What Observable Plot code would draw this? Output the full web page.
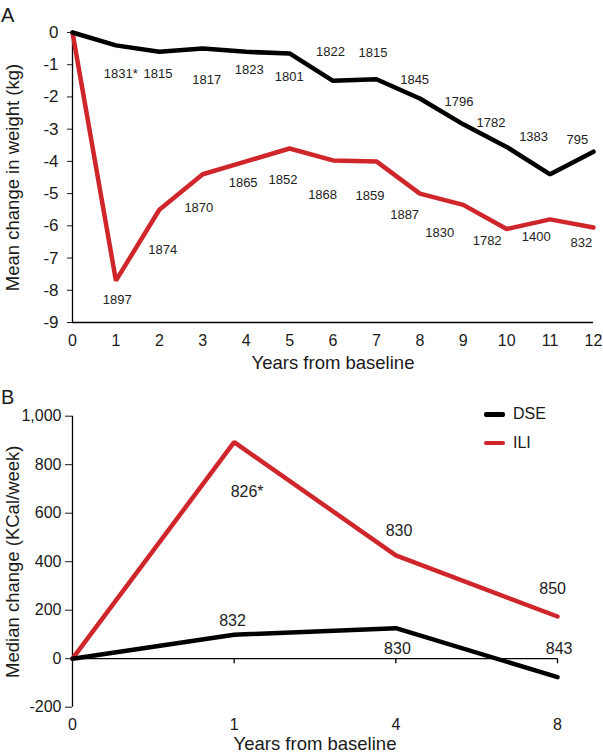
<!DOCTYPE html>
<html>
<head>
<meta charset="utf-8">
<script src="https://cdn.jsdelivr.net/npm/d3@7"></script>
<script src="https://cdn.jsdelivr.net/npm/@observablehq/plot@0.6"></script>
<style>
  body { margin: 0; background: #fff; font-family: "Liberation Sans", Arial, sans-serif; }
  #wrap { position: relative; width: 603px; height: 753px; overflow: hidden; }
  .panel { position: absolute; left: 0; }
  .letter { position: absolute; left: 1px; font-size: 20px; line-height: 1; color: #1a1a1a; }
  .legend { position: absolute; left: 484px; top: 400px; font-size: 16px; color: #1a1a1a; }
  .legend .row { display: flex; align-items: center; height: 28.7px; }
  .legend .sw { width: 21px; height: 4.5px; margin-right: 8px; border-radius: 2px; }
</style>
</head>
<body>
<div id="wrap">
  <div class="letter" style="top:5px">A</div>
  <div class="letter" style="top:387px">B</div>
  <div id="pa" class="panel" style="top:0"></div>
  <div id="pb" class="panel" style="top:375px"></div>
  <div class="legend">
    <div class="row"><div class="sw" style="background:#000"></div><span>DSE</span></div>
    <div class="row"><div class="sw" style="background:#cf262c"></div><span>ILI</span></div>
  </div>
</div>
<script>
// ---------- Data: Panel A (weight change, kg) ----------
const yearsA = [0, 1, 2, 3, 4, 5, 6, 7, 8, 9, 10, 11, 12];
const dseWeight = [0, -0.4, -0.6, -0.5, -0.6, -0.65, -1.5, -1.45, -2.05, -2.85, -3.55, -4.4, -3.7];
const iliWeight = [0, -7.7, -5.5, -4.4, -4.0, -3.6, -3.97, -4.0, -5.0, -5.35, -6.1, -5.8, -6.05];
const yTicksA = [0, -1, -2, -3, -4, -5, -6, -7, -8, -9];
// sample-size labels (text) and their anchor in data units
const dseNA = ["1831*", "1815", "1817", "1823", "1801", "1822", "1815", "1845", "1796", "1782", "1383", "795"];
const dseNAx = [1.11, 1.97, 3.09, 4.07, 4.99, 5.94, 6.92, 7.88, 8.90, 9.64, 10.62, 11.63];
const dseNAy = [-1.28, -1.29, -1.46, -1.15, -1.37, -0.59, -0.62, -1.47, -2.15, -2.81, -3.25, -3.32];
const iliNA = ["1897", "1874", "1870", "1865", "1852", "1868", "1859", "1887", "1830", "1782", "1400", "832"];
const iliNAx = [1.03, 2.08, 2.91, 3.93, 4.85, 5.76, 6.85, 7.65, 8.46, 9.55, 10.68, 11.72];
const iliNAy = [-8.29, -6.73, -5.45, -4.67, -4.56, -5.03, -5.06, -5.65, -6.22, -6.45, -6.35, -6.52];

// ---------- Data: Panel B (energy expenditure, KCal/week) ----------
const yearsB = [0, 1, 4, 8];
const dseKcal = [0, 99, 126, -76];
const iliKcal = [0, 893, 426, 174];
const yTicksB = [-200, 0, 200, 400, 600, 800, 1000];
const labelsB = ["826*", "830", "850", "832", "830", "843"];
const labelsBx = [1.08, 2.02, 2.97, 0.99, 2.01, 3.01];   // position index (0..3)
const labelsBy = [690, 529, 286, 158, 42, 42];

const series = ["DSE", "ILI"];
const colors = ["#000000", "#cf262c"];
const font = "Liberation Sans, Arial, sans-serif";
const fmt = d => (d < 0 ? "-" : "") + d3.format(",")(Math.abs(d));

const dataA = [
  ...yearsA.map((x, i) => ({x, y: iliWeight[i], s: "ILI"})),
  ...yearsA.map((x, i) => ({x, y: dseWeight[i], s: "DSE"}))
];
const labA = [
  ...dseNA.map((t, i) => ({t, x: dseNAx[i], y: dseNAy[i]})),
  ...iliNA.map((t, i) => ({t, x: iliNAx[i], y: iliNAy[i]}))
];

const plotA = Plot.plot({
  width: 603, height: 375,
  marginTop: 32, marginBottom: 53, marginLeft: 72, marginRight: 10,
  style: {fontFamily: font, fontSize: "16px", color: "#1a1a1a", background: "transparent"},
  x: {domain: [0, 12]},
  y: {domain: [-9, 0]},
  color: {domain: series, range: colors},
  marks: [
    Plot.axisY({ticks: yTicksA, tickSize: 5, tickPadding: 9, tickFormat: fmt, label: null, fontSize: 17}),
    Plot.axisX({ticks: yearsA, tickSize: 0, tickPadding: 12, label: null, fontSize: 16}),
    Plot.ruleX([0], {stroke: "#000", strokeWidth: 1.3}),
    Plot.ruleY([-9], {stroke: "#000", strokeWidth: 1.3}),
    Plot.line(dataA, {x: "x", y: "y", z: "s", stroke: "s", strokeWidth: 4.5, strokeLinejoin: "miter"}),
    Plot.text(labA, {x: "x", y: "y", text: "t", fontSize: 13, fill: "#222"}),
    Plot.text(["Years from baseline"], {frameAnchor: "bottom", textAnchor: "middle", lineAnchor: "middle", dy: 41, fontSize: 18.5, fill: "#1a1a1a"}),
    Plot.text(["Mean change in weight (kg)"], {frameAnchor: "left", textAnchor: "middle", lineAnchor: "middle", dx: -59, rotate: -90, fontSize: 18.5, fill: "#1a1a1a"})
  ]
});
document.getElementById("pa").append(plotA);

const dataB = [
  ...yearsB.map((yr, i) => ({i, y: iliKcal[i], s: "ILI"})),
  ...yearsB.map((yr, i) => ({i, y: dseKcal[i], s: "DSE"}))
];
const labB = labelsB.map((t, k) => ({t, x: labelsBx[k], y: labelsBy[k]}));
const idx = yearsB.map((d, i) => i);

const plotB = Plot.plot({
  width: 603, height: 378,
  marginTop: 40.7, marginBottom: 46.3, marginLeft: 72, marginRight: 46,
  style: {fontFamily: font, fontSize: "16px", color: "#1a1a1a", background: "transparent"},
  x: {domain: [0, 3]},
  y: {domain: [-200, 1000]},
  color: {domain: series, range: colors},
  marks: [
    Plot.axisY({ticks: yTicksB, tickSize: 7, tickPadding: 4, tickFormat: fmt, label: null, fontSize: 16}),
    Plot.axisX({ticks: idx, tickSize: 0, tickPadding: 11, tickFormat: i => yearsB[i], label: null, fontSize: 16}),
    Plot.ruleX([0], {stroke: "#000", strokeWidth: 1.3}),
    Plot.ruleY([0], {stroke: "#000", strokeWidth: 1.3}),
    Plot.ruleX(idx.slice(1), {y1: 0, y2: -21, stroke: "#000", strokeWidth: 1.3}),
    Plot.line(dataB, {x: "i", y: "y", z: "s", stroke: "s", strokeWidth: 4.5, strokeLinejoin: "miter"}),
    Plot.text(labB, {x: "x", y: "y", text: "t", fontSize: 16, fill: "#222"}),
    Plot.text(["Years from baseline"], {frameAnchor: "bottom", textAnchor: "middle", lineAnchor: "middle", dy: 37, fontSize: 18.5, fill: "#1a1a1a"}),
    Plot.text(["Median change (KCal/week)"], {frameAnchor: "left", textAnchor: "middle", lineAnchor: "middle", dx: -59, rotate: -90, fontSize: 18.5, fill: "#1a1a1a"})
  ]
});
document.getElementById("pb").append(plotB);
</script>
</body>
</html>
